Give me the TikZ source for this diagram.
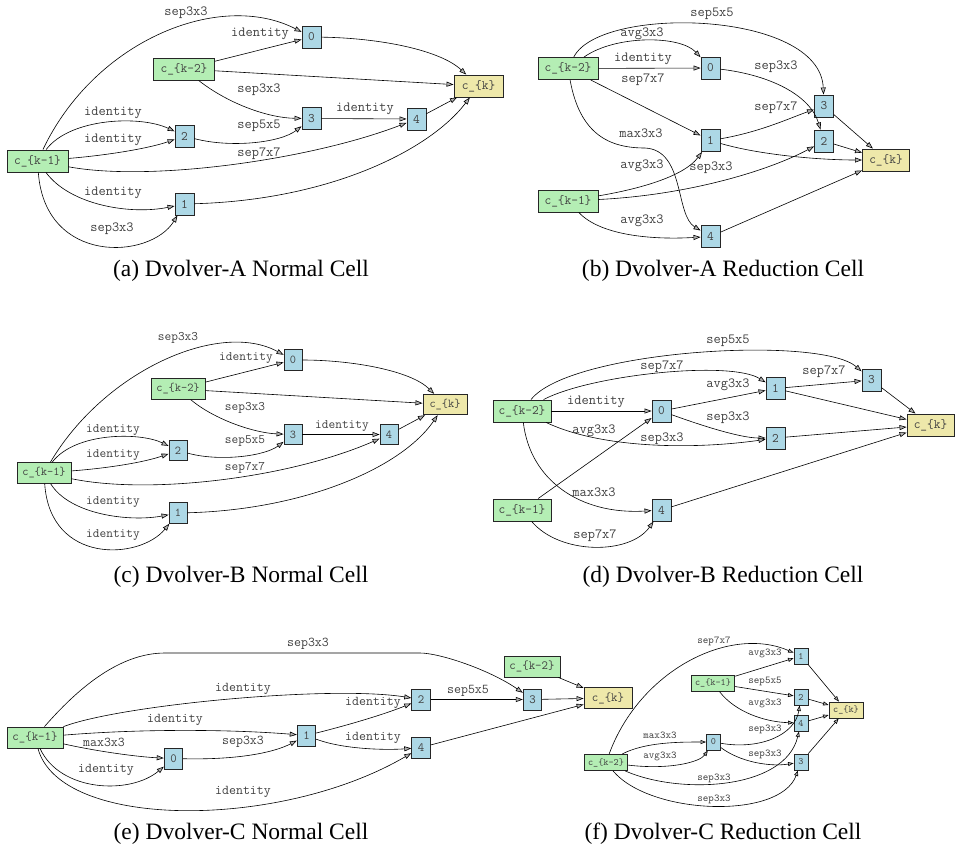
\documentclass[tikz,border=0pt]{standalone}
\usepackage{fontspec}
\setmainfont{Liberation Serif}
\usetikzlibrary{arrows.meta}
\definecolor{cellgreen}{RGB}{180,238,180}
\definecolor{cellblue}{RGB}{173,216,230}
\definecolor{cellyellow}{RGB}{238,232,170}
\newcommand\monosize[1]{\fontsize{#1}{#1}\ttfamily}

\tikzset{
  box/.style={draw=black!85, line width=0.9pt, inner sep=0pt, text=black!75},
  inp/.style={box, fill=cellgreen},
  op/.style={box, fill=cellblue},
  outp/.style={box, fill=cellyellow},
  lbl/.style={inner sep=0pt, text=black!75},
  edge/.style={line width=0.6pt, -{Triangle[length=7pt,width=5pt,fill=black!30]}},
  caption/.style={font=\fontsize{23.5}{26}\selectfont},
  cellsize/.style n args={6}{box/.append style={minimum height=#1, font=\monosize{#5}},
    inp/.append style={minimum width=#2}, op/.append style={minimum width=#3},
    outp/.append style={minimum width=#4}, lbl/.append style={font=\monosize{#6}}}
}

\begin{document}
\begin{tikzpicture}[x=1pt, y=-1pt]
    \useasboundingbox (0,0) rectangle (955,852);

    % (a) Dvolver-A normal cell
    \begin{scope}[cellsize={22pt}{61pt}{19pt}{49pt}{13}{14}]
        \node[inp] (ak1) at (37.5,161) {c\_\{k-1\}};
        \node[inp] (ak2) at (184,69) {c\_\{k-2\}};
        \node[outp] (ak) at (478.5,86) {c\_\{k\}};
        \foreach \n/\x/\y in {0/311.5/37, 1/184.5/204, 2/184.5/136, 3/311.5/118.5, 4/416.5/119} {
            \node[op] (a\n) at (\x,\y) {\n};
        }
        \foreach \s/\t in {ak2/a0, ak2/ak, a3/a4, a4/ak} {
            \draw[edge] (\s) -- (\t);
        }
        \draw[edge] (ak1) .. controls (95,40) and (220,-10) .. (a0);
        \draw[edge] (ak2) .. controls (230,105) and (270,118) .. (a3);
        \draw[edge] (ak1) .. controls (70,118) and (140,115) .. (a2);
        \draw[edge] (ak1) .. controls (110,155) and (150,148) .. (a2);
        \draw[edge] (a2) .. controls (230,148) and (280,143) .. (a3);
        \draw[edge] (ak1) .. controls (150,182) and (310,160) .. (a4);
        \draw[edge] (a0) .. controls (380,38) and (440,50) .. (ak);
        \draw[edge] (a1) .. controls (330,200) and (430,150) .. (ak);
        \draw[edge] (ak1) .. controls (70,205) and (130,215) .. (a1);
        \draw[edge] (ak1) .. controls (45,265) and (150,260) .. (a1);
        \foreach \t/\x/\y [count=\i] in {sep3x3/186/13, identity/260/34, sep3x3/259/90,
            identity/365/109, identity/113/113, identity/113/140, sep5x5/259/126,
            sep7x7/259/154, identity/113/193, sep3x3/112/229} {
            \node[lbl] (la\i) at (\x,\y) {\t};
        }
    \end{scope}
    \node[caption] (capa) at (241,271) {(a) Dvolver-A Normal Cell};

    % (b) Dvolver-A reduction cell
    \begin{scope}[cellsize={22pt}{60pt}{19pt}{47pt}{13}{14}]
        \node[inp] (bk2) at (568,68.5) {c\_\{k-2\}};
        \node[inp] (bk1) at (568,201) {c\_\{k-1\}};
        \node[outp] (bk) at (886,160) {c\_\{k\}};
        \foreach \n/\x/\y in {0/710.5/68, 1/710.5/140.5, 2/824/141, 3/824/106, 4/710.5/236.5} {
            \node[op] (b\n) at (\x,\y) {\n};
        }
        \foreach \s/\t in {bk2/b0, bk2/b1, b3/bk, b2/bk, b4/bk} {
            \draw[edge] (\s) -- (\t);
        }
        \draw[edge] (bk2) .. controls (615,35) and (680,35) .. (b0);
        \draw[edge] (bk2) .. controls (600,5) and (820,10) .. (b3);
        \draw[edge] (bk2) .. controls (580,135) and (610,148) .. (645,148)
            .. controls (685,150) and (675,215) .. (b4);
        \draw[edge] (b0) .. controls (770,75) and (810,95) .. (b2);
        \draw[edge] (b1) .. controls (760,132) and (790,118) .. (b3);
        \draw[edge] (b1) .. controls (760,155) and (820,160) .. (bk);
        \draw[edge] (bk1) .. controls (645,188) and (685,175) .. (b1);
        \draw[edge] (bk1) .. controls (690,195) and (770,170) .. (b2);
        \draw[edge] (bk1) .. controls (600,235) and (650,240) .. (b4);
        \foreach \t/\x/\y [count=\i] in {sep5x5/712/14, avg3x3/642/34, identity/643/59,
            sep7x7/643/80, sep3x3/776/67, sep7x7/776/108, max3x3/641/133,
            avg3x3/642/166, sep3x3/711/168, avg3x3/642/221} {
            \node[lbl] (lb\i) at (\x,\y) {\t};
        }
    \end{scope}
    \node[caption] (capb) at (723,271) {(b) Dvolver-A Reduction Cell};

    % (c) Dvolver-B normal cell
    \begin{scope}[cellsize={20.5pt}{54pt}{18pt}{44pt}{12}{13}]
        \node[inp] (ck1) at (44,473) {c\_\{k-1\}};
        \node[inp] (ck2) at (178,389) {c\_\{k-2\}};
        \node[outp] (ck) at (445,404.5) {c\_\{k\}};
        \foreach \n/\x/\y in {0/293/360, 1/178/513, 2/178/450.5, 3/293/434.5, 4/389/434.5} {
            \node[op] (c\n) at (\x,\y) {\n};
        }
        \foreach \s/\t in {ck2/c0, ck2/ck, c3/c4, c4/ck} {
            \draw[edge] (\s) -- (\t);
        }
        \draw[edge] (ck1) .. controls (105,370) and (220,320) .. (c0);
        \draw[edge] (ck2) .. controls (215,420) and (255,433) .. (c3);
        \draw[edge] (ck1) .. controls (75,432) and (140,432) .. (c2);
        \draw[edge] (ck1) .. controls (110,468) and (145,462) .. (c2);
        \draw[edge] (c2) .. controls (220,462) and (265,456) .. (c3);
        \draw[edge] (ck1) .. controls (150,495) and (290,478) .. (c4);
        \draw[edge] (c0) .. controls (350,360) and (410,370) .. (ck);
        \draw[edge] (c1) .. controls (300,510) and (400,470) .. (ck);
        \draw[edge] (ck1) .. controls (70,515) and (130,522) .. (c1);
        \draw[edge] (ck1) .. controls (50,565) and (140,560) .. (c1);
        \foreach \t/\x/\y [count=\i] in {sep3x3/178/338, identity/246/358, sep3x3/245/408,
            identity/342/426, identity/113/430, identity/113/455, sep5x5/245/441,
            sep7x7/245/468, identity/113/502, identity/113/535} {
            \node[lbl] (lc\i) at (\x,\y) {\t};
        }
    \end{scope}
    \node[caption] (capc) at (241,577) {(c) Dvolver-B Normal Cell};

    % (d) Dvolver-B reduction cell
    \begin{scope}[cellsize={22pt}{58pt}{19pt}{47pt}{13}{14}]
        \node[inp] (dk2) at (522,411) {c\_\{k-2\}};
        \node[inp] (dk1) at (522,510) {c\_\{k-1\}};
        \node[outp] (dk) at (930.5,425) {c\_\{k\}};
        \foreach \n/\x/\y in {0/661.5/411, 1/775.5/388.5, 2/775.5/438, 3/871.5/380, 4/661.5/510} {
            \node[op] (d\n) at (\x,\y) {\n};
        }
        \foreach \s/\t in {dk2/d0, d0/d1, d1/d3, d3/dk, d1/dk, d2/dk, dk1/d0, d4/dk} {
            \draw[edge] (\s) -- (\t);
        }
        \draw[edge] (dk2) .. controls (570,350) and (820,335) .. (d3);
        \draw[edge] (dk2) .. controls (590,375) and (730,360) .. (d1);
        \draw[edge] (d0) .. controls (700,425) and (740,438) .. (d2);
        \draw[edge] (dk2) .. controls (600,448) and (690,450) .. (d2);
        \draw[edge] (dk2) .. controls (530,480) and (580,515) .. (d4);
        \draw[edge] (dk1) .. controls (560,555) and (630,555) .. (d4);
        \foreach \t/\x/\y [count=\i] in {sep5x5/728/341, sep7x7/662/367, sep7x7/824/372,
            avg3x3/728/385, identity/596/402, sep3x3/728/418, avg3x3/594/431,
            sep3x3/662/439, max3x3/594/492, sep7x7/595/536} {
            \node[lbl] (ld\i) at (\x,\y) {\t};
        }
    \end{scope}
    \node[caption] (capd) at (723,577) {(d) Dvolver-B Reduction Cell};

    % (e) Dvolver-C normal cell
    \begin{scope}[cellsize={21pt}{56pt}{18.5pt}{48pt}{12.5}{13.5}]
        \node[inp] (ek1) at (35,737.5) {c\_\{k-1\}};
        \node[inp] (ek2) at (532,666.5) {c\_\{k-2\}};
        \node[outp] (ek) at (608,698) {c\_\{k\}};
        \foreach \n/\x/\y in {0/173.5/758.5, 1/306.5/735.5, 2/421/699.5, 3/532.5/699.5, 4/421/747.5} {
            \node[op] (e\n) at (\x,\y) {\n};
        }
        \foreach \s/\t in {e2/e3, ek2/ek, e3/ek, e4/ek} {
            \draw[edge] (\s) -- (\t);
        }
        \draw[edge] (ek1) .. controls (85,680) and (125,653) .. (165,653) -- (420,653)
            .. controls (440,653) and (490,670) .. (e3);
        \draw[edge] (ek1) .. controls (120,705) and (330,685) .. (e2);
        \draw[edge] (ek1) .. controls (150,728) and (240,730) .. (e1);
        \draw[edge] (ek1) .. controls (100,752) and (140,757) .. (e0);
        \draw[edge] (ek1) .. controls (60,792) and (130,795) .. (e0);
        \draw[edge] (ek1) .. controls (60,830) and (280,830) .. (e4);
        \draw[edge] (e0) .. controls (240,760) and (275,752) .. (e1);
        \draw[edge] (e1) .. controls (360,722) and (390,712) .. (e2);
        \draw[edge] (e1) .. controls (345,750) and (390,750) .. (e4);
        \foreach \t/\x/\y [count=\i] in {sep3x3/308/644, identity/243/689, identity/175/720,
            max3x3/104/742, sep3x3/243/742, identity/106/770, identity/243/792,
            sep5x5/468/691, identity/373/703, identity/373/738} {
            \node[lbl] (le\i) at (\x,\y) {\t};
        }
    \end{scope}
    \node[caption] (cape) at (241,834) {(e) Dvolver-C Normal Cell};

    % (f) Dvolver-C reduction cell
    \begin{scope}[cellsize={16pt}{43.5pt}{14pt}{34pt}{9.75}{10.5},
        edge/.append style={-{Triangle[length=5.5pt,width=4pt,fill=black!30]}}]
        \node[inp] (fk1) at (713,683) {c\_\{k-1\}};
        \node[inp] (fk2) at (606,762.5) {c\_\{k-2\}};
        \node[outp] (fk) at (846,710) {c\_\{k\}};
        \foreach \n/\x/\y in {0/713.5/742, 1/801/656, 2/801/697, 3/801/762, 4/801/723} {
            \node[op] (f\n) at (\x,\y) {\n};
        }
        \foreach \s/\t in {fk1/f1, fk1/f2, f1/fk, f2/fk, f4/fk, f3/fk} {
            \draw[edge] (\s) -- (\t);
        }
        \draw[edge] (fk2) .. controls (640,670) and (730,625) .. (f1);
        \draw[edge] (fk1) .. controls (735,712) and (765,722) .. (f4);
        \draw[edge] (f0) .. controls (760,750) and (795,735) .. (f2);
        \draw[edge] (f0) .. controls (740,762) and (770,767) .. (f3);
        \draw[edge] (fk2) .. controls (645,742) and (680,742) .. (f0);
        \draw[edge] (fk2) .. controls (670,770) and (700,762) .. (f0);
        \draw[edge] (fk2) .. controls (680,795) and (785,790) .. (f4);
        \draw[edge] (fk2) .. controls (650,815) and (780,820) .. (f3);
        \foreach \t/\x/\y [count=\i] in {sep7x7/714/641, avg3x3/765/653, sep5x5/765/681,
            avg3x3/765/703, sep3x3/765/729, max3x3/660/735, avg3x3/660/756,
            sep3x3/765/754, sep3x3/714/778, sep3x3/714/799} {
            \node[lbl] (lf\i) at (\x,\y) {\t};
        }
    \end{scope}
    \node[caption] (capf) at (723,834) {(f) Dvolver-C Reduction Cell};
\end{tikzpicture}
\end{document}
